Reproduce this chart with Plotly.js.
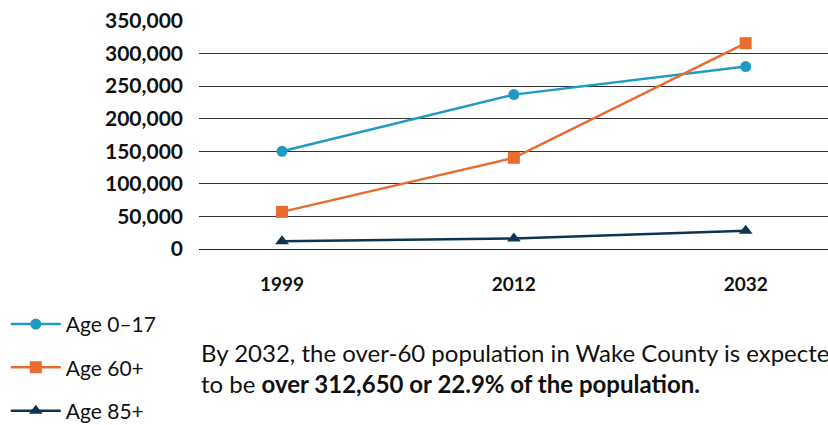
<!DOCTYPE html>
<html>
<head>
<meta charset="utf-8">
<script src="https://cdn.plot.ly/plotly-3.0.1.min.js"></script>
<style>
html,body{margin:0;padding:0;background:#fff;}
#chart{width:828px;height:425px;}
</style>
</head>
<body>
<div id="chart"></div>
<script>
const years = ['1999', '2012', '2032'];
const age0to17 = [150000, 237000, 280000];
const age60plus = [57000, 140000, 316000];
const age85plus = [12000, 16000, 28000];
const seriesNames = ['Age 0–17', 'Age 60+', 'Age 85+'];
const yTickVals = [0, 50000, 100000, 150000, 200000, 250000, 300000, 350000];
const yTickText = ['0', '50,000', '100,000', '150,000', '200,000', '250,000', '300,000', '350,000'];

const FONT = 'Lato, "Source Sans Pro", "Noto Sans", sans-serif';

const traces = [
  {x: years, y: age0to17, name: seriesNames[0], legendgroup: 'a', type: 'scatter', mode: 'lines+markers',
   line: {color: '#1f9ac4', width: 2.5}, marker: {symbol: 'circle', size: 11, color: '#1f9ac4'}},
  {x: years, y: age60plus, name: seriesNames[1], legendgroup: 'b', type: 'scatter', mode: 'lines+markers',
   line: {color: '#ea6b2e', width: 2.5}, marker: {symbol: 'square', size: 12, color: '#ea6b2e'}},
  {x: years, y: age85plus, name: seriesNames[2], legendgroup: 'c', type: 'scatter', mode: 'lines+markers',
   line: {color: '#0c3553', width: 2.5}, marker: {symbol: 'triangle-up', size: 12, color: '#0c3553'}}
];

const layout = {
  width: 828, height: 425,
  margin: {l: 199, r: 0, t: 21, b: 176},
  paper_bgcolor: '#fff', plot_bgcolor: '#fff',
  font: {family: FONT, color: '#111'},
  xaxis: {
    type: 'category', range: [-0.358, 2.355],
    showgrid: false, zeroline: false, showline: false, ticks: '',
    tickfont: {family: FONT, size: 19, color: '#111', weight: 'bold'},
    ticklabelstandoff: 22
  },
  yaxis: {
    range: [0, 350000], tickvals: yTickVals, ticktext: yTickText,
    showgrid: true, gridcolor: '#333', gridwidth: 1,
    zeroline: true, zerolinecolor: '#222', zerolinewidth: 1,
    showline: false, ticks: '',
    tickfont: {family: FONT, size: 21, color: '#111', weight: 'bold'},
    ticklabelstandoff: 15
  },
  showlegend: true,
  legend: {
    xref: 'container', yref: 'container', x: 0.007, y: 0.285, xanchor: 'left', yanchor: 'top',
    orientation: 'v', traceorder: 'grouped', tracegroupgap: 13,
    font: {family: FONT, size: 21, color: '#111'}, itemwidth: 50, bgcolor: 'rgba(0,0,0,0)'
  },
  annotations: [{
    xref: 'paper', yref: 'paper', x: 0, y: -0.38, xanchor: 'left', yanchor: 'top', align: 'left',
    showarrow: false,
    text: 'By 2032, the over-60 population in Wake County is expected<br>to be <b>over 312,650 or 22.9% of the population.</b>',
    font: {family: FONT, size: 24, color: '#111'}
  }]
};

Plotly.newPlot('chart', traces, layout, {displayModeBar: false, staticPlot: true});
</script>
</body>
</html>
